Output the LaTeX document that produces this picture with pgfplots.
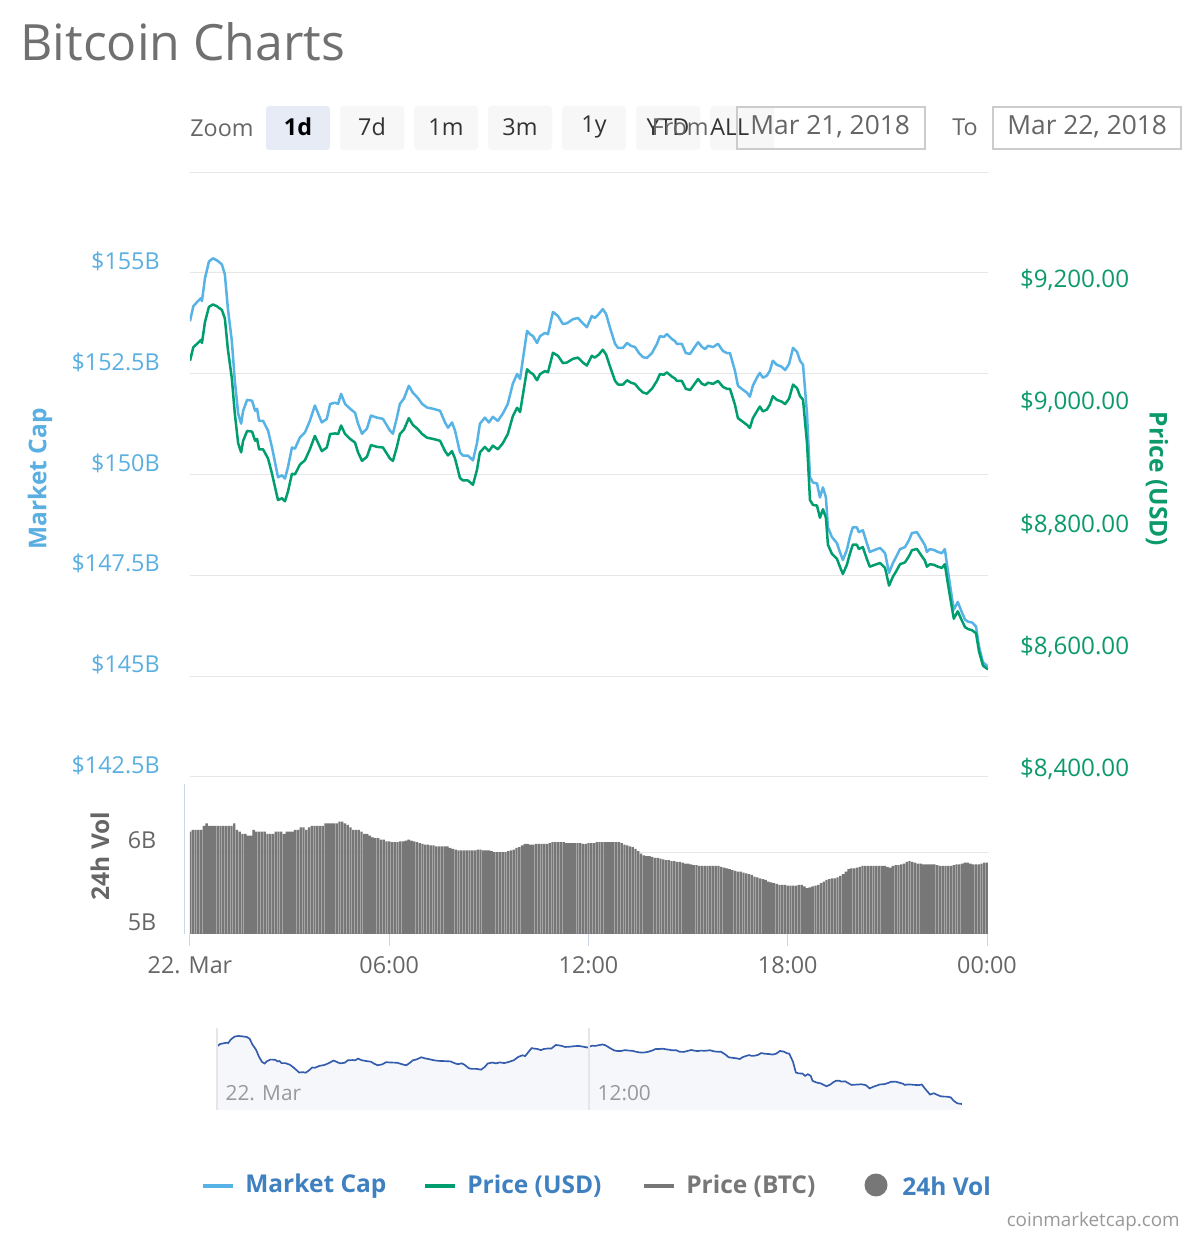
\documentclass[border=0pt]{standalone}
\usepackage{pgfplots}
\pgfplotsset{compat=1.18}
\usepackage{pgfplotstable}
\usepackage{fontspec}
\setmainfont{Open Sans}
\definecolor{lineblue}{HTML}{57B3E6}
\definecolor{linegreen}{HTML}{009E6E}
\definecolor{labblue}{HTML}{5AAFE2}
\definecolor{labgreen}{HTML}{0C9A6A}
\definecolor{gridgray}{HTML}{E6E6E6}
\definecolor{axisblue}{HTML}{CCD6EB}
\definecolor{bargray}{HTML}{777777}
\definecolor{txtgray}{HTML}{666666}
\definecolor{titlegray}{HTML}{707070}
\definecolor{legblue}{HTML}{3F80C0}
\definecolor{navline}{HTML}{335CAD}
\definecolor{navfill}{HTML}{F5F7FB}
\definecolor{navtxt}{HTML}{999999}
\definecolor{btnfill}{HTML}{F7F7F7}
\definecolor{btnsel}{HTML}{E6EBF5}
\definecolor{boxline}{HTML}{CCCCCC}
\newcommand\ticksize{\fontsize{14}{16}\selectfont}
\newcommand\btnsize{\fontsize{14}{17}\selectfont}
\newcommand\datesize{\fontsize{15.8}{18}\selectfont}
\newcommand\legsize{\fontsize{14.7}{17}\selectfont\bfseries}

\pgfplotstableread{
h cap price
0.00 153.80 9068
0.10 154.17 9090
0.24 154.30 9097
0.33 154.37 9102
0.36 154.30 9097
0.45 154.86 9131
0.57 155.28 9156
0.69 155.36 9160
0.81 155.31 9157
0.96 155.21 9151
1.05 154.96 9137
1.14 154.12 9087
1.26 153.31 9039
1.35 152.32 8981
1.45 151.51 8933
1.54 151.26 8918
1.60 151.58 8937
1.72 151.85 8953
1.87 151.83 8952
1.96 151.58 8937
2.02 151.63 8940
2.08 151.33 8923
2.20 151.33 8923
2.35 151.09 8908
2.47 150.67 8883
2.59 150.18 8854
2.65 149.93 8840
2.77 149.98 8843
2.86 149.90 8838
2.95 150.18 8854
3.07 150.67 8883
3.16 150.64 8882
3.31 150.92 8898
3.46 151.04 8905
3.61 151.33 8923
3.76 151.71 8945
3.97 151.29 8920
4.12 151.38 8926
4.22 151.75 8948
4.37 151.78 8949
4.46 151.75 8948
4.55 152.00 8962
4.67 151.75 8948
4.82 151.63 8940
4.97 151.53 8934
5.06 151.26 8918
5.18 151.01 8904
5.33 151.14 8911
5.45 151.46 8930
5.63 151.41 8927
5.81 151.38 8926
6.02 151.09 8908
6.11 151.01 8904
6.23 151.41 8927
6.32 151.75 8948
6.44 151.88 8955
6.59 152.20 8974
6.71 152.03 8963
6.86 151.90 8956
6.99 151.75 8948
7.14 151.66 8942
7.32 151.63 8940
7.53 151.58 8937
7.68 151.29 8920
7.77 151.16 8913
7.89 151.29 8920
7.98 151.09 8908
8.13 150.55 8876
8.22 150.47 8872
8.37 150.47 8872
8.52 150.35 8865
8.64 150.77 8889
8.73 151.26 8918
8.88 151.41 8927
9.00 151.29 8920
9.12 151.43 8929
9.27 151.33 8923
9.42 151.51 8933
9.57 151.75 8948
9.72 152.25 8977
9.85 152.49 8991
9.94 152.37 8984
10.03 152.89 9014
10.15 153.56 9054
10.24 153.48 9049
10.33 153.43 9046
10.45 153.26 9036
10.54 153.43 9046
10.69 153.51 9051
10.78 153.48 9049
10.93 154.03 9081
11.08 153.93 9076
11.23 153.73 9064
11.35 153.75 9065
11.53 153.85 9071
11.68 153.88 9073
11.83 153.75 9065
11.95 153.65 9060
12.10 153.93 9076
12.19 153.88 9073
12.31 153.98 9078
12.43 154.10 9086
12.53 153.98 9078
12.65 153.63 9058
12.80 153.24 9035
12.89 153.14 9029
13.04 153.14 9029
13.16 153.26 9036
13.28 153.19 9032
13.40 153.16 9030
13.52 153.01 9022
13.64 152.91 9016
13.76 152.89 9014
13.91 153.01 9022
14.06 153.24 9035
14.15 153.43 9046
14.27 153.41 9045
14.36 153.48 9049
14.51 153.36 9042
14.60 153.31 9039
14.66 153.24 9035
14.81 153.24 9035
14.93 153.01 9022
15.06 152.99 9020
15.18 153.14 9029
15.30 153.28 9038
15.42 153.16 9030
15.51 153.11 9028
15.60 153.19 9032
15.75 153.16 9030
15.90 153.24 9035
16.05 153.06 9025
16.17 153.01 9022
16.26 153.01 9022
16.41 152.57 8996
16.50 152.20 8974
16.65 152.10 8968
16.77 152.03 8963
16.86 151.93 8958
16.95 152.20 8974
17.07 152.40 8985
17.16 152.52 8993
17.25 152.40 8985
17.37 152.45 8988
17.46 152.57 8996
17.55 152.82 9010
17.67 152.72 9004
17.82 152.67 9001
17.92 152.59 8997
18.04 152.74 9006
18.16 153.14 9029
18.28 153.04 9023
18.37 152.82 9010
18.46 152.72 9004
18.58 151.51 8933
18.67 149.93 8840
18.76 149.80 8832
18.88 149.78 8831
18.97 149.43 8811
19.06 149.68 8825
19.15 149.43 8811
19.21 148.69 8767
19.33 148.45 8752
19.48 148.30 8744
19.57 148.08 8731
19.66 147.88 8719
19.78 148.13 8734
19.87 148.45 8752
19.96 148.69 8767
20.08 148.69 8767
20.14 148.57 8760
20.26 148.62 8763
20.38 148.30 8744
20.47 148.08 8731
20.62 148.13 8734
20.78 148.18 8737
20.93 148.05 8729
21.05 147.56 8700
21.17 147.81 8715
21.26 147.95 8723
21.38 148.15 8735
21.53 148.20 8738
21.65 148.37 8748
21.74 148.55 8758
21.89 148.57 8760
22.04 148.37 8748
22.13 148.25 8741
22.19 148.08 8731
22.28 148.15 8735
22.40 148.13 8734
22.52 148.08 8731
22.64 148.05 8729
22.73 148.15 8735
22.82 147.63 8704
22.94 146.97 8665
23.00 146.65 8646
23.12 146.84 8658
23.25 146.57 8642
23.34 146.40 8632
23.43 146.35 8629
23.55 146.33 8627
23.67 146.23 8622
23.76 145.73 8592
23.88 145.34 8569
24.03 145.24 8563
}\capdata

\pgfplotstableread{
v
6.25
6.27
6.27
6.27
6.27
6.32
6.35
6.32
6.32
6.32
6.32
6.32
6.32
6.32
6.32
6.32
6.35
6.27
6.25
6.22
6.22
6.20
6.20
6.27
6.25
6.25
6.25
6.25
6.22
6.22
6.22
6.25
6.25
6.25
6.22
6.25
6.25
6.25
6.27
6.27
6.30
6.30
6.27
6.30
6.32
6.32
6.32
6.32
6.32
6.35
6.35
6.35
6.35
6.35
6.37
6.37
6.35
6.33
6.30
6.27
6.27
6.27
6.25
6.22
6.22
6.20
6.18
6.17
6.17
6.15
6.15
6.13
6.13
6.12
6.12
6.12
6.13
6.13
6.14
6.15
6.14
6.13
6.12
6.11
6.10
6.09
6.09
6.08
6.08
6.07
6.07
6.07
6.07
6.07
6.05
6.04
6.03
6.02
6.02
6.02
6.02
6.02
6.02
6.02
6.03
6.03
6.02
6.02
6.02
6.01
6.00
6.00
6.00
6.00
6.00
6.01
6.02
6.03
6.05
6.06
6.08
6.10
6.10
6.09
6.09
6.10
6.10
6.10
6.10
6.10
6.11
6.12
6.12
6.12
6.12
6.12
6.11
6.11
6.11
6.11
6.11
6.11
6.10
6.10
6.11
6.11
6.11
6.12
6.12
6.12
6.12
6.12
6.12
6.12
6.12
6.12
6.11
6.09
6.08
6.07
6.06
6.04
6.01
5.98
5.96
5.95
5.95
5.94
5.93
5.93
5.92
5.91
5.90
5.90
5.89
5.89
5.88
5.88
5.87
5.86
5.86
5.85
5.84
5.84
5.83
5.83
5.83
5.83
5.83
5.83
5.83
5.83
5.82
5.81
5.80
5.79
5.78
5.77
5.76
5.76
5.75
5.74
5.73
5.72
5.70
5.69
5.68
5.67
5.66
5.64
5.63
5.62
5.61
5.60
5.60
5.60
5.59
5.59
5.59
5.59
5.60
5.60
5.58
5.56
5.57
5.58
5.59
5.60
5.62
5.64
5.66
5.67
5.68
5.68
5.69
5.71
5.73
5.76
5.79
5.80
5.80
5.81
5.82
5.83
5.83
5.83
5.83
5.83
5.83
5.83
5.83
5.83
5.82
5.81
5.83
5.84
5.84
5.85
5.86
5.88
5.89
5.88
5.87
5.86
5.86
5.85
5.85
5.85
5.85
5.85
5.84
5.83
5.83
5.83
5.83
5.83
5.84
5.85
5.85
5.86
5.87
5.87
5.86
5.85
5.85
5.85
5.86
5.87
5.87
}\voldata

\begin{document}
\begin{tikzpicture}[x=0.6pt,y=0.6pt]
\useasboundingbox[fill=white] (0,0) rectangle (1200,1240);

% title
\node[anchor=base west, inner sep=0pt, text=titlegray, font=\fontsize{30}{36}\selectfont] at (20,1179) {Bitcoin Charts};

% range selector
\node[anchor=west, inner sep=0pt, text=txtgray, font=\btnsize] at (190,1112) {Zoom};
\fill[btnsel, rounded corners=2pt] (266,1090) rectangle ++(64,44);
\node[text=black, font=\btnsize\bfseries] at (298,1113) {1d};
\foreach \xa/\lab in {340/7d,414/1m,488/3m,562/1y,636/YTD} {
  \fill[btnfill, rounded corners=2pt] (\xa,1090) rectangle ++(64,44);
  \node[text=black!80, font=\btnsize] at (\xa+32,1113) {\lab};
}
\fill[btnfill, rounded corners=2pt] (710,1090) rectangle ++(64,44);
\node[anchor=west, inner sep=0pt, text=black!80, font=\btnsize] at (710,1113) {ALL};
\node[anchor=east, inner sep=0pt, text=txtgray, font=\btnsize] at (709,1113) {From};
\draw[draw=boxline, line width=1.2pt] (737,1133) rectangle (925,1091);
\node[anchor=west, inner sep=0pt, text=txtgray, font=\datesize] at (750,1113) {Mar 21, 2018};
\node[text=txtgray, font=\btnsize] at (965,1113) {To};
\draw[draw=boxline, line width=1.2pt] (993,1133) rectangle (1181,1091);
\node[anchor=west, inner sep=0pt, text=txtgray, font=\datesize] at (1007,1113) {Mar 22, 2018};

% main axis: market cap
\begin{axis}[at={(114pt,277.8pt)}, anchor=south west, scale only axis,
  width=478.8pt, height=363pt,
  xmin=0, xmax=24.03, ymin=142.5, ymax=157.5,
  axis lines*=left, axis line style={draw=none},
  xtick=\empty,
  ytick={142.5,145,147.5,150,152.5,155,157.5},
  yticklabels={\$142.5B,\$145B,\$147.5B,\$150B,\$152.5B,\$155B,{}},
  ymajorgrids, grid style={draw=gridgray, line width=0.6pt},
  major tick length=0pt,
  yticklabel style={anchor=east, text=labblue, font=\ticksize, inner sep=0pt, xshift=-18pt, yshift=7pt},
]
\addplot[lineblue, line width=1.5pt, line join=round] table[x=h, y=cap]{\capdata};
\end{axis}

% main axis: price
\begin{axis}[at={(114pt,277.8pt)}, anchor=south west, scale only axis,
  width=478.8pt, height=363pt,
  xmin=0, xmax=24.03, ymin=8386.9, ymax=9376.7,
  axis y line*=right, axis x line=none, axis line style={draw=none},
  xtick=\empty,
  ytick={8400,8600,8800,9000,9200},
  yticklabels={{\$8,400.00},{\$8,600.00},{\$8,800.00},{\$9,000.00},{\$9,200.00}},
  major tick length=0pt,
  yticklabel style={anchor=west, text=labgreen, font=\fontsize{14.5}{17}\selectfont, inner sep=0pt, xshift=19pt},
]
\addplot[linegreen, line width=1.5pt, line join=round] table[x=h, y=price]{\capdata};
\end{axis}

% volume
\begin{axis}[at={(114pt,183.6pt)}, anchor=south west, scale only axis,
  width=478.8pt, height=90pt,
  xmin=0, xmax=24.03, ymin=5, ymax=6.83,
  axis x line*=bottom, axis y line*=left,
  x axis line style={draw=axisblue, line width=0.6pt},
  y axis line style={draw=axisblue, line width=0.6pt, xshift=-3pt},
  xtick={0,6,12,18,24}, xticklabels={22. Mar,06:00,12:00,18:00,00:00},
  ytick={5,6}, yticklabels={5B,6B},
  ymajorgrids, grid style={draw=gridgray, line width=0.6pt},
  tick align=outside, major tick length=7pt,
  xtick style={draw=axisblue, line width=0.6pt}, ytick style={draw=none},
  xticklabel style={text=txtgray, font=\ticksize, inner sep=0pt, anchor=north, yshift=-6.5pt},
  yticklabel style={text=txtgray, font=\ticksize, inner sep=0pt, anchor=east, xshift=-13pt, yshift=7pt},
  ybar, bar width=1.4pt,
]
\addplot[fill=bargray, draw=none] table[x expr=\coordindex/12, y=v]{\voldata};
\end{axis}

% navigator
\begin{axis}[at={(130.2pt,78pt)}, anchor=south west, scale only axis,
  width=447pt, height=49.2pt,
  xmin=0, xmax=24.03, ymin=144.35, ymax=156.55,
  axis on top,
  axis line style={draw=none}, ytick=\empty,
  xtick={0,12}, xticklabels={22. Mar,12:00},
  xmajorgrids, grid style={draw=gridgray, line width=0.8pt},
  major tick length=0pt,
  xticklabel style={anchor=base west, inner sep=0pt, xshift=5pt, yshift=5.5pt, text=navtxt, font=\fontsize{12.5}{15}\selectfont},
]
\addplot[fill=navfill, draw=none] table[x=h, y=cap]{\capdata} \closedcycle;
\addplot[navline, line width=1pt] table[x=h, y=cap]{\capdata};
\end{axis}

% axis titles
\node[rotate=90, text=labblue, font=\legsize] at (40,761) {Market Cap};
\node[rotate=-90, text=labgreen, font=\legsize] at (1157,761) {Price (USD)};
\node[rotate=90, text=txtgray, font=\legsize] at (100,384) {24h Vol};

% legend
\draw[lineblue, line width=2pt] (203,54) -- (233,54);
\node[anchor=west, inner sep=0pt, text=legblue, font=\legsize] at (245,54) {Market Cap};
\draw[linegreen, line width=2pt] (425,54) -- (455,54);
\node[anchor=west, inner sep=0pt, text=legblue, font=\legsize] at (467,54) {Price (USD)};
\draw[bargray, line width=2pt] (644,54) -- (674,54);
\node[anchor=west, inner sep=0pt, text=bargray, font=\legsize] at (686,54) {Price (BTC)};
\fill[bargray] (876,55) circle (6.9pt);
\node[anchor=west, inner sep=0pt, text=legblue, font=\legsize] at (902,54) {24h Vol};

\node[anchor=east, inner sep=0pt, text=navtxt, font=\fontsize{11.3}{14}\selectfont] at (1180,18) {coinmarketcap.com};
\end{tikzpicture}
\end{document}
